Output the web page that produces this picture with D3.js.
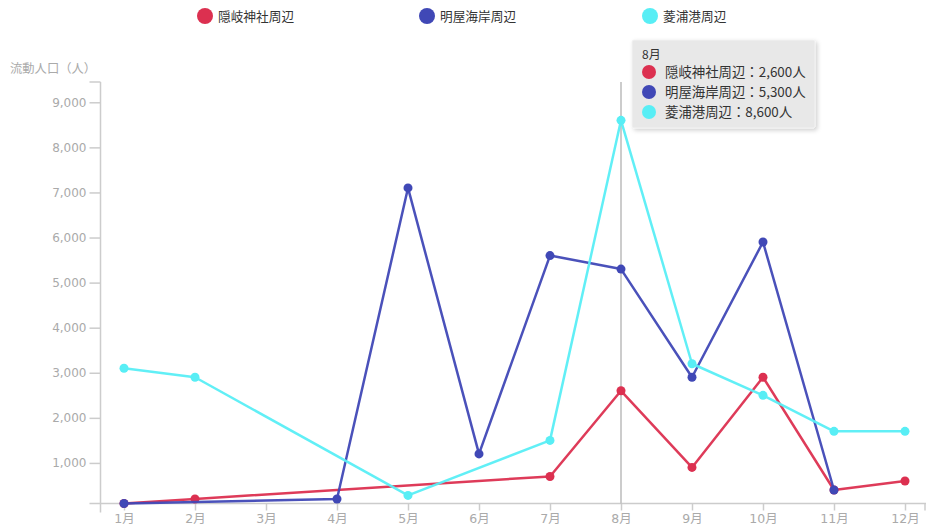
<!DOCTYPE html>
<html><head><meta charset="utf-8">
<script src="https://cdn.jsdelivr.net/npm/d3@7"></script>
<style>body{margin:0;background:#fff;}svg{display:block;font-family:"Noto Sans CJK JP","Noto Sans",sans-serif;}</style>
</head><body>
<svg id="c" width="928" height="528"></svg>
<script>
const months = ["1月","2月","3月","4月","5月","6月","7月","8月","9月","10月","11月","12月"];
const seriesNames = ["隠岐神社周辺","明屋海岸周辺","菱浦港周辺"];
const seriesColors = ["#dc3050","#4048b6","#58eef5"];
const okiJinja = [100,200,null,null,null,null,700,2600,900,2900,400,600];
const akiyaKaigan = [100,null,null,200,7100,1200,5600,5300,2900,5900,400,null];
const hishiuraKo = [3100,2900,null,null,280,null,1500,8600,3200,2500,1700,1700];
const yTicks = [1000,2000,3000,4000,5000,6000,7000,8000,9000];
const yTitle = "流動人口（人）";
const focusMonth = "8月";
const unit = "人";

const data = [okiJinja, akiyaKaigan, hishiuraKo];
const svg = d3.select("#c");
const x = d3.scalePoint().domain(months).range([124,905]);
const y = d3.scaleLinear().domain([100,9450]).range([503.5,82]);
const axisColor = "#cccccc", labelColor = "#aaaaaa";
const numFont = "'DejaVu Sans','Noto Sans CJK JP',sans-serif";

// legend
const legX = [205,427,650];
seriesNames.forEach((n,i)=>{
  svg.append("circle").attr("cx",legX[i]).attr("cy",16).attr("r",8).attr("fill",seriesColors[i]);
  svg.append("text").attr("x",legX[i]+13).attr("y",20.5).attr("font-size",12.7).attr("fill","#333").text(n);
});

// y axis title
svg.append("text").attr("x",10).attr("y",73).attr("font-size",12.3).attr("fill",labelColor).text(yTitle);

// y axis
const yAx = svg.append("g").attr("transform","translate(100.5,0)")
  .call(d3.axisLeft(y).tickValues(yTicks).tickFormat(d3.format(",")).tickSize(11).tickSizeOuter(0));
yAx.select(".domain").remove();
yAx.selectAll("line").attr("stroke",axisColor).attr("stroke-width",1.5);
yAx.selectAll("text").attr("fill",labelColor).attr("font-size",12).attr("x",-14).attr("font-family",numFont);
svg.append("line").attr("x1",100.5).attr("x2",100.5).attr("y1",y(y.domain()[1])).attr("y2",y(y.domain()[0])+9).attr("stroke",axisColor).attr("stroke-width",1.5);
svg.append("line").attr("x1",89.5).attr("x2",100.5).attr("y1",y(y.domain()[1])).attr("y2",y(y.domain()[1])).attr("stroke",axisColor).attr("stroke-width",1.5);

// x axis
const xAx = svg.append("g").attr("transform",`translate(0,${y(y.domain()[0])})`)
  .call(d3.axisBottom(x).tickSize(7).tickSizeOuter(0));
xAx.select(".domain").remove();
xAx.selectAll("line").attr("stroke",axisColor).attr("stroke-width",1.5);
xAx.selectAll("text").attr("fill",labelColor).attr("font-size",12.5).attr("y",11).attr("font-family",numFont);
const y0 = y(y.domain()[0]);
svg.append("line").attr("x1",89.5).attr("x2",926).attr("y1",y0).attr("y2",y0).attr("stroke",axisColor).attr("stroke-width",1.5);
svg.append("line").attr("x1",925).attr("x2",925).attr("y1",y0).attr("y2",y0+7).attr("stroke",axisColor).attr("stroke-width",1.5);

// focus line
svg.append("line").attr("x1",x(focusMonth)).attr("x2",x(focusMonth)).attr("y1",82).attr("y2",y0)
  .attr("stroke","#bbbbbb").attr("stroke-width",1.5);

// lines
const line = d3.line().x(d=>x(d.m)).y(d=>y(d.v));
data.forEach((arr,i)=>{
  const pts = arr.map((v,j)=>({m:months[j],v})).filter(d=>d.v!==null);
  svg.append("path").datum(pts).attr("d",line).attr("fill","none").attr("stroke",seriesColors[i])
    .attr("stroke-width",2.5).attr("stroke-linejoin","round").attr("opacity",0.95);
  svg.selectAll(null).data(pts).enter().append("circle")
    .attr("cx",d=>x(d.m)).attr("cy",d=>y(d.v)).attr("r",4.5).attr("fill",seriesColors[i]);
});

// tooltip
const fi = months.indexOf(focusMonth);
const tip = svg.append("g").attr("transform","translate(632,40)");
const defs = svg.append("defs");
const f = defs.append("filter").attr("id","sh").attr("x","-10%").attr("y","-10%").attr("width","130%").attr("height","140%");
f.append("feDropShadow").attr("dx",2).attr("dy",2).attr("stdDeviation",2).attr("flood-color","#000").attr("flood-opacity",0.18);
tip.append("rect").attr("width",183).attr("height",88).attr("rx",2).attr("fill","#e8e8e8").attr("stroke","#f2f2f2").attr("filter","url(#sh)");
tip.append("text").attr("x",10).attr("y",19).attr("font-size",12).attr("fill","#333").text(focusMonth);
seriesNames.forEach((n,i)=>{
  const cy = 32 + i*20;
  tip.append("circle").attr("cx",17).attr("cy",cy).attr("r",7).attr("fill",seriesColors[i]);
  tip.append("text").attr("x",33).attr("y",cy+4.5).attr("font-size",13.4).attr("fill","#333")
    .text(`${n}：${d3.format(",")(data[i][fi])}${unit}`);
});
</script>
</body></html>
